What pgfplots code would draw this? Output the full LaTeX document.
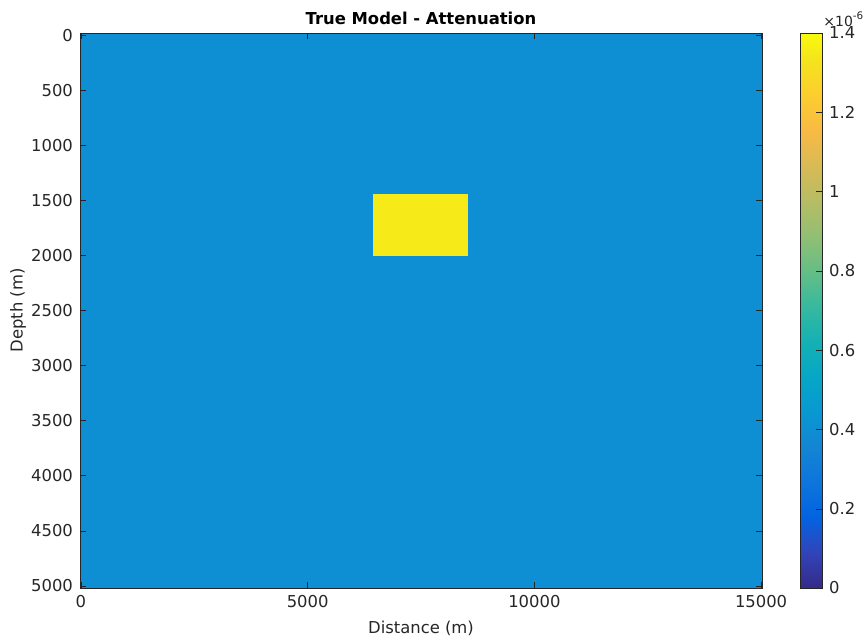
\documentclass[border=0pt]{standalone}
\usepackage{fontspec}
\setmainfont{DejaVu Sans}
\usepackage{pgfplots}
\usepgfplotslibrary{patchplots}
\pgfplotsset{compat=1.18}
\definecolor{axgray}{rgb}{0.15,0.15,0.15}
\newcommand{\fs}{\fontsize{8.2}{10}\selectfont}
\begin{document}
\begin{tikzpicture}
\begin{axis}[
  at={(0,0)}, anchor=south west,
  scale only axis, width=341pt, height=277.5pt,
  xmin=-20, xmax=15020, ymin=-20, ymax=5020, y dir=reverse,
  axis on top,
  xtick={0,5000,10000,15000},
  ytick={0,500,1000,1500,2000,2500,3000,3500,4000,4500,5000},
  tick align=inside, major tick length=3pt,
  font=\fs,
  tick label style={font=\fs, color=axgray},
  axis line style={axgray}, tick style={axgray},
  /pgf/number format/assume math mode=true,
  /pgf/number format/set thousands separator={},
  scaled ticks=false,
  title={\bfseries True Model - Attenuation},
  title style={at={(0.5,1)}, anchor=south, yshift=-5.5pt, font=\fs},
  xlabel={Distance (m)}, ylabel={Depth (m)},
  xlabel style={at={(0.5,0)}, anchor=center, yshift=-20pt, color=axgray, font=\fs},
  ylabel style={at={(0,0.5)}, anchor=center, yshift=31pt, color=axgray, font=\fs},
  colormap={parula}{
    rgb(0pt)=(0.2081,0.1663,0.5292)
    rgb(4pt)=(0.1959,0.2645,0.7279)
    rgb(8pt)=(0.0117,0.3875,0.8820)
    rgb(12pt)=(0.0498,0.4586,0.8641)
    rgb(16pt)=(0.0793,0.5200,0.8312)
    rgb(20pt)=(0.0343,0.5966,0.8199)
    rgb(24pt)=(0.0228,0.6535,0.7768)
    rgb(28pt)=(0.0843,0.6928,0.7062)
    rgb(32pt)=(0.2178,0.7250,0.6193)
    rgb(36pt)=(0.3953,0.7459,0.5244)
    rgb(40pt)=(0.5709,0.7485,0.4494)
    rgb(44pt)=(0.7184,0.7411,0.3905)
    rgb(48pt)=(0.8507,0.7299,0.3360)
    rgb(52pt)=(0.9739,0.7314,0.2666)
    rgb(56pt)=(0.9880,0.8066,0.1794)
    rgb(60pt)=(0.9589,0.8949,0.1132)
    rgb(63pt)=(0.9763,0.9831,0.0538)
  },
  point meta min=0, point meta max=1.4,
  colorbar,
  colorbar style={
    at={(parent axis.north east)}, anchor=north west, xshift=10.5pt, width=11pt,
    ytick={0,0.2,0.4,0.6,0.8,1,1.2,1.4},
    yticklabels={0,0.2,0.4,0.6,0.8,1,1.2,1.4},
    ytick pos=right, yticklabel pos=right,
    tick align=inside, major tick length=3pt,
    axis line style={axgray}, tick style={axgray},
    yticklabel style={font=\fs, color=axgray},
    scaled y ticks=false,
  },
]
\addplot[patch, patch type=rectangle, shader=flat, point meta=explicit] coordinates {
  (-20,-20) [0.4] (15020,-20) [0.4] (15020,5020) [0.4] (-20,5020) [0.4]
  (6440,1450) [1.35] (8520,1450) [1.35] (8520,2000) [1.35] (6440,2000) [1.35]
};
\end{axis}
\node[anchor=base west, inner sep=0pt, font=\fontsize{7}{8}\selectfont, color=axgray] at (371.5pt,281pt)
  {×10\raisebox{0.9ex}{\fontsize{5.2}{6}\selectfont -6}};
\pgfresetboundingbox
\path[use as bounding box] (-40pt,-25.5pt) rectangle (394pt,294pt);
\end{tikzpicture}
\end{document}
